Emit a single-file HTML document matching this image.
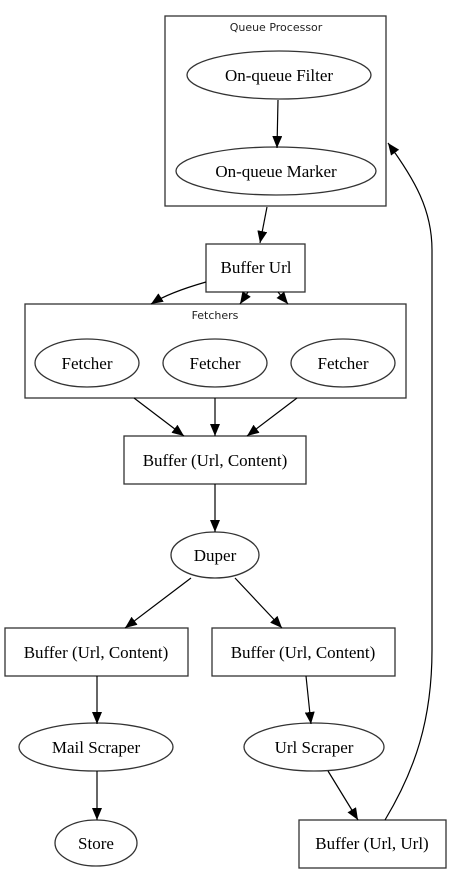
<!DOCTYPE html>
<html><head><style>body{margin:0;background:#fff}svg{display:block}</style></head><body>
<svg width="451" height="873" viewBox="0 0 451 873" xmlns="http://www.w3.org/2000/svg">
<defs><marker id="a" markerWidth="12" markerHeight="10" refX="12" refY="5" orient="auto" markerUnits="userSpaceOnUse"><path d="M0,0L12,5L0,10Z" fill="#000"/></marker></defs>
<g fill="none" stroke="#333" stroke-width="1.3">
<rect x="165" y="16" width="221" height="190"/>
<rect x="25" y="304" width="381" height="94"/>
</g>
<g font-family="'DejaVu Sans',sans-serif" font-size="11" fill="#222" text-anchor="middle">
<text x="276" y="31">Queue Processor</text>
<text x="215" y="319">Fetchers</text>
</g>
<g fill="#fff" stroke="#333" stroke-width="1.3">
<ellipse cx="279" cy="75" rx="92" ry="24"/>
<ellipse cx="276" cy="171" rx="100" ry="24"/>
<rect x="206" y="244" width="99" height="48"/>
<ellipse cx="87" cy="363" rx="52" ry="24"/>
<ellipse cx="215" cy="363" rx="52" ry="24"/>
<ellipse cx="343" cy="363" rx="52" ry="24"/>
<rect x="124" y="436" width="182" height="48"/>
<ellipse cx="215" cy="555" rx="44" ry="23"/>
<rect x="5" y="628" width="183" height="48"/>
<rect x="212" y="628" width="183" height="48"/>
<ellipse cx="96" cy="747" rx="77" ry="24"/>
<ellipse cx="314" cy="747" rx="70" ry="24"/>
<ellipse cx="96" cy="843" rx="41" ry="23"/>
<rect x="299" y="820" width="147" height="48"/>
</g>
<g fill="none" stroke="#000" stroke-width="1.2" marker-end="url(#a)">
<path d="M278,100L277,148"/>
<path d="M267,207L260,243"/>
<path d="M206,282C185,288 165,295 151,304"/>
<path d="M248,292L240,304"/>
<path d="M278,292L288,304"/>
<path d="M134,398L184,436"/>
<path d="M215,398L215,436"/>
<path d="M297,398L247,436"/>
<path d="M215,484L215,532"/>
<path d="M191,578L125,628"/>
<path d="M235,578L282,628"/>
<path d="M97,676L97,724"/>
<path d="M97,771L97,820"/>
<path d="M306,676L311,724"/>
<path d="M328,771L358,820"/>
<path d="M385,820C415,770 432,720 432,650L432,250C432,210 415,180 388,143"/>
</g>
<g font-family="'Liberation Serif',serif" font-size="17" fill="#000" text-anchor="middle">
<text x="279" y="81">On-queue Filter</text>
<text x="276" y="177">On-queue Marker</text>
<text x="256" y="273">Buffer Url</text>
<text x="87" y="369">Fetcher</text>
<text x="215" y="369">Fetcher</text>
<text x="343" y="369">Fetcher</text>
<text x="215" y="466">Buffer (Url, Content)</text>
<text x="215" y="561">Duper</text>
<text x="96" y="658">Buffer (Url, Content)</text>
<text x="303" y="658">Buffer (Url, Content)</text>
<text x="96" y="753">Mail Scraper</text>
<text x="314" y="753">Url Scraper</text>
<text x="96" y="849">Store</text>
<text x="372" y="849">Buffer (Url, Url)</text>
</g>
</svg>
</body></html>
